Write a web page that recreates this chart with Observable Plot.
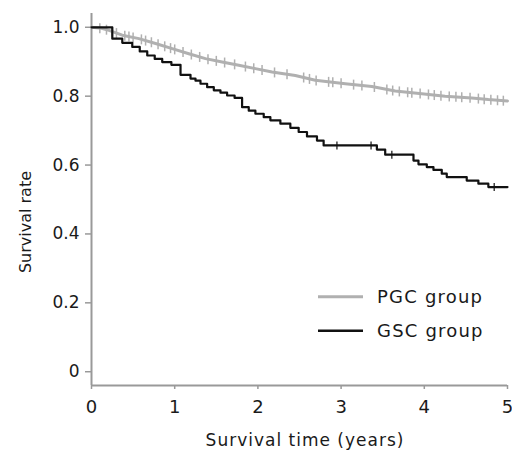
<!DOCTYPE html>
<html><head><meta charset="utf-8">
<script src="https://cdn.jsdelivr.net/npm/d3@7"></script>
<script src="https://cdn.jsdelivr.net/npm/@observablehq/plot@0.6"></script>
<style>body{margin:0;background:#fff}</style>
</head><body><div id="chart"></div>
<script>
// GSC group: Kaplan–Meier steps (time in years, survival after the step)
const gscTime = [0, 0.25, 0.37, 0.49, 0.58, 0.67, 0.76, 0.85, 0.96, 1.07, 1.19, 1.25, 1.31, 1.39, 1.47, 1.55, 1.63, 1.72, 1.81, 1.89, 1.97, 2.07, 2.15, 2.27, 2.39, 2.49, 2.59, 2.71, 2.79, 3.43, 3.53, 3.87, 3.93, 4.03, 4.11, 4.21, 4.27, 4.51, 4.65, 4.77, 5.0];
const gscSurv = [1.0, 0.967, 0.955, 0.943, 0.930, 0.918, 0.908, 0.899, 0.891, 0.862, 0.851, 0.845, 0.836, 0.826, 0.817, 0.810, 0.802, 0.795, 0.768, 0.758, 0.749, 0.739, 0.730, 0.720, 0.708, 0.696, 0.683, 0.671, 0.657, 0.645, 0.630, 0.613, 0.602, 0.594, 0.586, 0.575, 0.565, 0.555, 0.546, 0.536, 0.536];
const gscCensor = [2.95, 3.36, 3.61, 4.84];

// PGC group
const pgcTime = [0, 0.12, 0.21, 0.37, 0.57, 0.77, 0.97, 1.17, 1.37, 1.57, 1.77, 1.97, 2.17, 2.45, 2.69, 3.05, 3.37, 3.65, 3.97, 4.25, 4.57, 4.77, 5.0];
const pgcSurv = [1.0, 0.997, 0.991, 0.977, 0.967, 0.953, 0.938, 0.923, 0.909, 0.899, 0.890, 0.880, 0.870, 0.860, 0.846, 0.836, 0.828, 0.815, 0.807, 0.800, 0.795, 0.790, 0.786];
const pgcCensor = [0.1, 0.18, 0.25, 0.3, 0.4, 0.45, 0.5, 0.6, 0.65, 0.72, 0.8, 0.88, 0.95, 1.0, 1.1, 1.2, 1.3, 1.4, 1.5, 1.6, 1.72, 1.85, 1.95, 2.05, 2.2, 2.35, 2.55, 2.62, 2.7, 2.85, 2.9, 3.0, 3.15, 3.25, 3.4, 3.55, 3.62, 3.7, 3.8, 3.85, 3.95, 4.05, 4.12, 4.2, 4.3, 4.38, 4.45, 4.55, 4.65, 4.72, 4.8, 4.88, 4.95];

const xTicks = [0, 1, 2, 3, 4, 5];
const yTicks = [0, 0.2, 0.4, 0.6, 0.8, 1.0];
const seriesNames = ["PGC group", "GSC group"];
const seriesColors = ["#b0b0b0", "#111111"];

const gsc = gscTime.map((t, i) => ({t, s: gscSurv[i]}));
const pgc = pgcTime.map((t, i) => ({t, s: pgcSurv[i]}));
const stepAt = (times, survs, t) => { let k = 0; for (let i = 0; i < times.length; i++) if (times[i] <= t) k = i; return survs[k]; };
const pgcLin = d3.scaleLinear(pgcTime, pgcSurv);
const gscC = gscCensor.map(t => ({t, s: stepAt(gscTime, gscSurv, t)}));
const pgcC = pgcCensor.map(t => ({t, s: pgcLin(t)}));

const vbar = {draw(ctx, size) { const r = Math.sqrt(size / Math.PI); ctx.moveTo(0, -r); ctx.lineTo(0, r); }};

const svg = Plot.plot({
  width: 512, height: 450,
  marginLeft: 91, marginRight: 5, marginTop: 13, marginBottom: 65,
  style: {fontFamily: "DejaVu Sans", fontSize: "16px", background: "#fff", color: "#222"},
  x: {domain: [0, 5]},
  y: {domain: [-0.04, 1.04]},
  marks: [
    Plot.axisY({ticks: yTicks, tickSize: 6, tickPadding: 6, tickFormat: d => d === 0 ? "0" : d.toFixed(1),
      stroke: "#999", fill: "#1a1a1a", fontSize: 17, label: null, strokeWidth: 1.5}),
    Plot.axisX({ticks: xTicks, tickSize: 4, tickPadding: 11, tickFormat: d => String(d),
      stroke: "#999", fill: "#1a1a1a", fontSize: 18, label: null, strokeWidth: 1.5}),
    Plot.ruleX([0], {stroke: "#999", strokeWidth: 2}),
    Plot.ruleY([-0.04], {stroke: "#999", strokeWidth: 2}),
    Plot.line(pgc, {x: "t", y: "s", stroke: seriesColors[0], strokeWidth: 3}),
    Plot.dot(pgcC, {x: "t", y: "s", symbol: vbar, r: 5, fill: "none", stroke: seriesColors[0], strokeWidth: 1.5}),
    Plot.line(gsc, {x: "t", y: "s", curve: "step-after", stroke: seriesColors[1], strokeWidth: 2.2}),
    Plot.dot(gscC, {x: "t", y: "s", symbol: vbar, r: 4, fill: "none", stroke: seriesColors[1], strokeWidth: 1.2})
  ]
});
document.getElementById("chart").appendChild(svg);

const s = d3.select(svg);
// Legend
seriesNames.forEach((name, i) => {
  const y = 296.7 + i * 34;
  s.append("line").attr("x1", 318).attr("x2", 363).attr("y1", y).attr("y2", y)
    .attr("stroke", seriesColors[i]).attr("stroke-width", i === 0 ? 3 : 2.6);
  s.append("text").attr("x", 377).attr("y", y).attr("dy", "0.36em").attr("text-anchor", "start")
    .attr("font-size", 18).attr("letter-spacing", 1.2).attr("fill", "#1a1a1a").text(name);
});
// Axis titles
s.append("text").attr("x", 305).attr("y", 446).attr("text-anchor", "middle")
  .attr("font-size", 17).attr("letter-spacing", 1).attr("fill", "#1a1a1a").text("Survival time (years)");
s.append("text").attr("transform", "translate(25,222) rotate(-90)").attr("text-anchor", "middle")
  .attr("dy", "0.36em").attr("font-size", 16).attr("fill", "#1a1a1a").text("Survival rate");
</script>
</body></html>
